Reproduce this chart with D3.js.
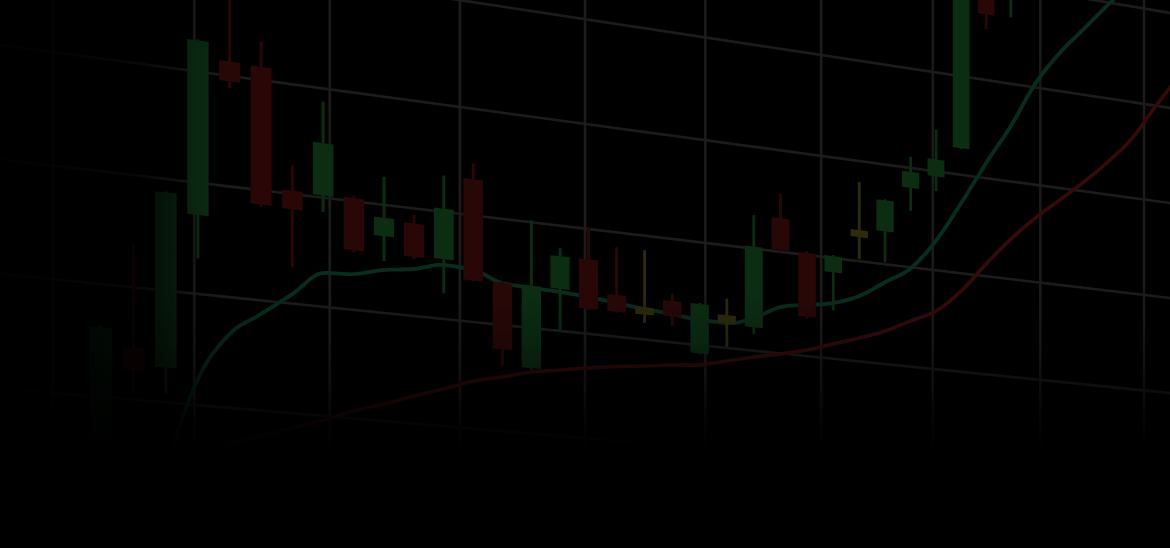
<!DOCTYPE html>
<html><head><meta charset="utf-8">
<script src="https://cdn.jsdelivr.net/npm/d3@7"></script>
<style>html,body{margin:0;padding:0;background:#000;overflow:hidden}</style>
</head><body>
<svg id="chart" width="1170" height="548"></svg>
<script>
// ---- data ----
const candleIndex = d3.range(1, 34);
const opens  = [105.6,114.6,113.1,127.1,141.3,141.2,130.3,130.2,130.3,127.1,128.6,125.6,133.4,124.0,116.2,124.0,127.1,124.0,123.1,124.0,119.2,123.2,122.3,133.3,130.2,128.6,133.1,133.3,138.0,139.5,142.7,159.0,159.5];
const highs  = [116.4,124.0,128.9,142.9,148.0,143.5,132.6,138.8,130.5,132.6,129.4,133.4,134.9,124.1,130.2,127.9,130.2,128.6,128.6,124.7,124.1,124.8,133.3,135.7,130.4,130.3,137.9,136.5,141.1,144.2,163.0,161.0,164.0];
const lows   = [105.4,110.4,110.8,123.2,138.9,128.5,123.3,128.7,125.3,124.8,125.3,122.4,123.8,116.2,116.0,120.1,122.2,122.3,121.6,121.6,119.1,120.1,121.6,130.0,123.7,124.8,130.2,130.2,135.7,138.0,142.6,155.2,156.8];
const closes = [116.2,112.6,128.8,142.8,139.5,128.7,128.6,135.0,125.5,128.8,125.5,130.3,123.9,117.7,124.0,127.1,122.4,122.4,122.4,122.5,124.0,122.4,130.2,130.2,123.9,130.2,132.4,136.4,139.6,141.2,162.0,156.7,163.0];
// moving averages, index 1..40 (null = not drawn)
const maFast = [null,null,104.0,112.35,116.67,118.77,120.87,123.09,123.3,123.97,124.37,125.05,124.88,123.96,123.79,123.7,123.51,123.23,122.94,122.74,122.44,122.43,123.2,124.57,125.05,125.54,126.53,128.2,129.9,133.0,137.13,141.54,145.68,150.4,153.95,156.83,159.73,162.55,null,null];
const maSlow = [null,null,null,105.97,106.83,107.69,108.65,109.62,110.69,111.58,112.57,113.47,114.47,115.11,115.83,116.28,116.74,117.14,117.45,117.81,118.07,118.72,119.38,119.94,120.6,121.47,122.34,123.31,124.6,125.89,128.2,131.25,134.11,136.59,138.77,140.97,143.39,146.14,149.86,153.39];
const priceTicks = [170,160,150,140,130,120,110,100,90];
const gridColumns = [0,1,2,3,4,5,6,7,8,9];

// ---- scales: data -> chart plane (grid units) ----
const xScale = d3.scaleLinear().domain([1, 33]).range([0.334, 7.7228]);
const yScale = d3.scaleLinear().domain([150, 140]).range([0, 1]);
// plane -> screen (perspective of the photographed screen)
function proj(u, v) {
  const D = 1 + 0.02107 * u;
  return [(145.33 * u + 53) / D, (20.59 * u + 113.6 * v - 61.6) / D];
}
const depth = u => 1 / (1 + 0.02107 * u);

const COL = {up:'#0b2e13', down:'#290707', doji:'#2e2b0a', grid:'#1c1c1c', fast:'#072e1c', slow:'#360a0a'};

const svg = d3.select('#chart');
svg.append('rect').attr('width',1170).attr('height',548).attr('fill','#000');
const g = svg.append('g');

// grid
priceTicks.forEach(p => {
  const a = proj(-0.6, yScale(p)), b = proj(10.2, yScale(p));
  g.append('line').attr('x1',a[0]).attr('y1',a[1]).attr('x2',b[0]).attr('y2',b[1])
    .attr('stroke',COL.grid).attr('stroke-width',2.6);
});
gridColumns.forEach(c => {
  const a = proj(c, -3), b = proj(c, 6);
  g.append('line').attr('x1',a[0]).attr('y1',a[1]).attr('x2',b[0]).attr('y2',b[1])
    .attr('stroke',COL.grid).attr('stroke-width',2.8*depth(c));
});

// moving average curves (smoothed in the plane, then projected)
function sampleCurve(values) {
  const pts = []; let cx = 0, cy = 0;
  const ctx = {
    moveTo(x,y){pts.push([x,y]);cx=x;cy=y;},
    lineTo(x,y){pts.push([x,y]);cx=x;cy=y;},
    bezierCurveTo(x1,y1,x2,y2,x,y){
      for (let k=1;k<=16;k++){const t=k/16,m=1-t;
        pts.push([m*m*m*cx+3*m*m*t*x1+3*m*t*t*x2+t*t*t*x, m*m*m*cy+3*m*m*t*y1+3*m*t*t*y2+t*t*t*y]);}
      cx=x;cy=y;},
    closePath(){}
  };
  const data = values.map((v,i)=>({i:i+1,v})).filter(d=>d.v!=null);
  d3.line().x(d=>xScale(d.i)*100).y(d=>yScale(d.v)*100).curve(d3.curveMonotoneX).context(ctx)(data);
  return pts.map(p=>proj(p[0]/100,p[1]/100));
}
const screenLine = d3.line();
g.append('path').attr('d',screenLine(sampleCurve(maSlow))).attr('fill','none').attr('stroke',COL.slow).attr('stroke-width',3.6);
g.append('path').attr('d',screenLine(sampleCurve(maFast))).attr('fill','none').attr('stroke',COL.fast).attr('stroke-width',3.8);

// candles
const halfW = 0.0775;
candleIndex.forEach((idx, k) => {
  const o = opens[k], c = closes[k], h = highs[k], l = lows[k];
  const color = Math.abs(c - o) < 1 ? COL.doji : (c > o ? COL.up : COL.down);
  const u = xScale(idx);
  const wt = proj(u, yScale(h)), wb = proj(u, yScale(l));
  g.append('line').attr('x1',wt[0]).attr('y1',wt[1]).attr('x2',wb[0]).attr('y2',wb[1])
    .attr('stroke',color).attr('stroke-width',3.1*depth(u));
  const top = yScale(Math.max(o,c)), bot = yScale(Math.min(o,c));
  const poly = [proj(u-halfW,top),proj(u+halfW,top),proj(u+halfW,bot),proj(u-halfW,bot)];
  g.append('polygon').attr('points',poly.map(p=>p.join(',')).join(' ')).attr('fill',color);
});

// fading of the photographed screen (bottom and left)
const defs = svg.append('defs');
const gv = defs.append('linearGradient').attr('id','fadeV').attr('gradientUnits','userSpaceOnUse')
  .attr('x1',0).attr('y1',0).attr('x2',0).attr('y2',548);
[[0,0],[290,0],[340,0.2],[385,0.5],[420,0.82],[450,1],[548,1]].forEach(s=>
  gv.append('stop').attr('offset',s[0]/548).attr('stop-color','#000').attr('stop-opacity',s[1]));
const gh = defs.append('linearGradient').attr('id','fadeH').attr('gradientUnits','userSpaceOnUse')
  .attr('x1',0).attr('y1',0).attr('x2',1170).attr('y2',0);
[[0,0.95],[100,0.8],[140,0.7],[172,0.5],[190,0.22],[215,0.06],[240,0],[1170,0]].forEach(s=>
  gh.append('stop').attr('offset',s[0]/1170).attr('stop-color','#000').attr('stop-opacity',s[1]));
svg.append('rect').attr('width',1170).attr('height',548).attr('fill','url(#fadeH)');
svg.append('rect').attr('width',1170).attr('height',548).attr('fill','url(#fadeV)');
</script>
</body></html>
